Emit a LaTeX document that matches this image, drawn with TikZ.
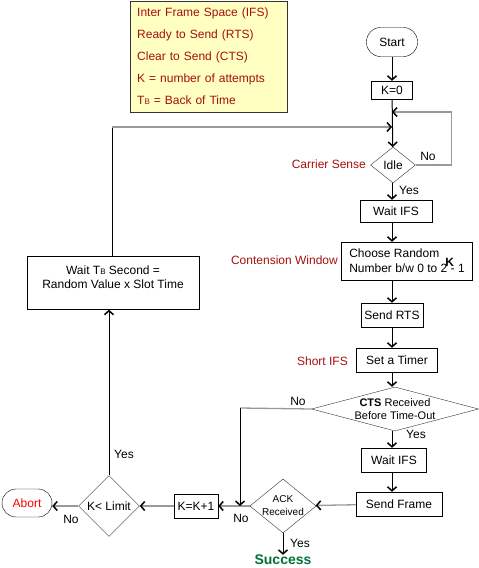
\documentclass[tikz,border=0pt]{standalone}
\usepackage{fontspec}
\setmainfont{Liberation Sans}
\usepackage{xcolor}
\usetikzlibrary{shapes.geometric, arrows.meta}

\definecolor{notered}{HTML}{A50F0F}
\definecolor{legendfill}{HTML}{FFFFC2}
\definecolor{linegray}{HTML}{999999}
\definecolor{okgreen}{HTML}{007236}

\begin{document}
\begin{tikzpicture}[x=1pt, y=-1pt, font=\fontsize{12pt}{14pt}\selectfont]
\tikzstyle{startstop} = [rectangle, rounded corners=14pt, minimum width=51pt, minimum height=29pt, inner sep=0pt, text centered, draw=black]
\tikzstyle{process} = [rectangle, minimum height=24pt, inner sep=0pt, text centered, draw=black]
\tikzstyle{decision} = [diamond, inner sep=0pt, text centered, draw=black!80]
\tikzstyle{note} = [text=notered, inner sep=0pt]
\tikzstyle{tag} = [inner sep=0pt]
\tikzstyle{arrow} = [line width=1pt, -{Straight Barb[length=4pt, width=9pt, line width=1.5pt, color=black]}]
\tikzstyle{grayline} = [line width=1.3pt, draw=linegray]

\useasboundingbox (0,0) rectangle (479,568);

% legend
\node (legend) [draw=black!80, fill=legendfill, anchor=north west, minimum width=157pt, minimum height=111pt,
  text width=143pt, inner xsep=7pt, align=left, text=notered, font=\fontsize{12pt}{22pt}\selectfont] at (130,1)
  {Inter Frame Space (IFS)\\Ready to Send (RTS)\\Clear to Send (CTS)\\K = number of attempts\\T{\fontsize{8pt}{8pt}\selectfont B} = Back of Time};

% main column
\node (start) [startstop] at (392,42) {Start};
\node (kzero) [process, minimum width=41pt, minimum height=18pt] at (392,90) {K=0};
\coordinate (loopIn) at (392,112);
\coordinate (backIn) at (392,127);
\node (idle) [decision, minimum width=45pt, minimum height=36pt] at (393,165) {Idle};
\node (waitIfs) [process, minimum width=72pt, minimum height=22pt] at (396,211) {Wait IFS};
\node (choose) [process, minimum width=131pt, minimum height=38pt, align=left] at (407,261)
  {Choose Random\\Number b/w 0 to 2\rlap{\hspace{-2pt}\raisebox{6pt}{\bfseries K}} - 1};
\node (sendRts) [process, minimum width=62pt] at (392,315) {Send RTS};
\node (timer) [process, minimum width=81pt] at (397,360) {Set a Timer};
\node (cts) [decision, minimum width=167pt, minimum height=44pt, shape aspect=3.8, align=center,
  font=\fontsize{11pt}{13pt}\selectfont] at (395,409) {\textbf{CTS} Received\\Before Time-Out};
\node (waitFrame) [process, minimum width=65pt] at (394,460) {Wait IFS};
\node (sendFrame) [process, minimum width=86pt] at (399,504) {Send Frame};
\node (ack) [decision, minimum width=64pt, minimum height=52pt, shape aspect=1.23, align=center,
  font=\fontsize{10pt}{13pt}\selectfont] at (283,506) {ACK\\Received};
\node (success) [tag, text=okgreen, font=\fontsize{14pt}{16pt}\selectfont\bfseries] at (283,560) {Success};

% retry branch
\node (kinc) [process, minimum width=44pt] at (196,506) {K=K+1};
\node (limit) [decision, minimum width=61pt, minimum height=61pt] at (109,506) {K< Limit};
\node (abort) [startstop, minimum width=50pt, minimum height=28pt, text=red] at (27,503) {Abort};
\node (backoff) [process, minimum width=172pt, minimum height=53pt, align=center] at (113,283)
  {Wait T{\fontsize{8pt}{8pt}\selectfont B} Second =\\Random Value x Slot Time\\[-2pt]};
\coordinate (backCorner) at (112,127);
\coordinate (ctsCorner) at (240,408);
\coordinate (ctsDrop) at (240,506);

% side notes
\node (carrierNote) [note, anchor=east] at (366,164) {Carrier Sense};
\node (windowNote) [note, anchor=east] at (338,260) {Contension Window};
\node (shortNote) [note, anchor=east] at (348,361) {Short IFS};
\node (idleNo) [tag] at (428,156) {No};
\node (idleYes) [tag] at (409,190) {Yes};
\node (ctsNo) [tag] at (298,401) {No};
\node (ctsYes) [tag] at (416,434) {Yes};
\node (ackNo) [tag] at (241,518) {No};
\node (ackYes) [tag] at (300,543) {Yes};
\node (limitNo) [tag] at (71,519) {No};
\node (limitYes) [tag] at (124,454) {Yes};

% connectors
\draw [arrow] (start) -- (kzero);
\draw [arrow] (kzero) -- (idle);
\draw [arrow, grayline] (idle.east) -- ++(36,0) |- (loopIn);
\draw [line width=1pt] (backoff.north -| backCorner) -- (backCorner);
\draw [arrow, grayline] (backCorner) -- (backIn);
\draw [arrow] (idle.south -| loopIn) -- (waitIfs.north -| loopIn);
\draw [arrow] (waitIfs.south -| loopIn) -- (choose.north -| loopIn);
\draw [arrow] (choose.south -| sendRts) -- (sendRts);
\draw [arrow] (sendRts) -- (timer.north -| sendRts);
\draw [arrow] (timer.south -| sendRts) -- (cts.north -| sendRts);
\draw [arrow] (cts.south -| sendRts) -- (waitFrame.north -| sendRts);
\draw [arrow] (waitFrame.south -| sendRts) -- (sendFrame.north -| sendRts);
\draw [arrow, grayline] (sendFrame) -- (ack);
\draw [arrow, grayline] (ack) -- (kinc);
\draw [grayline] (cts.west) -- (ctsCorner);
\draw [arrow] (ctsCorner) -- (ctsDrop);
\draw [arrow] (ack) -- (success);
\draw [arrow, grayline] (kinc) -- (limit);
\draw [arrow, grayline] (limit.west) -- (abort.east |- limit.west);
\draw [arrow] (limit) -- (backoff.south -| limit);

\end{tikzpicture}
\end{document}
